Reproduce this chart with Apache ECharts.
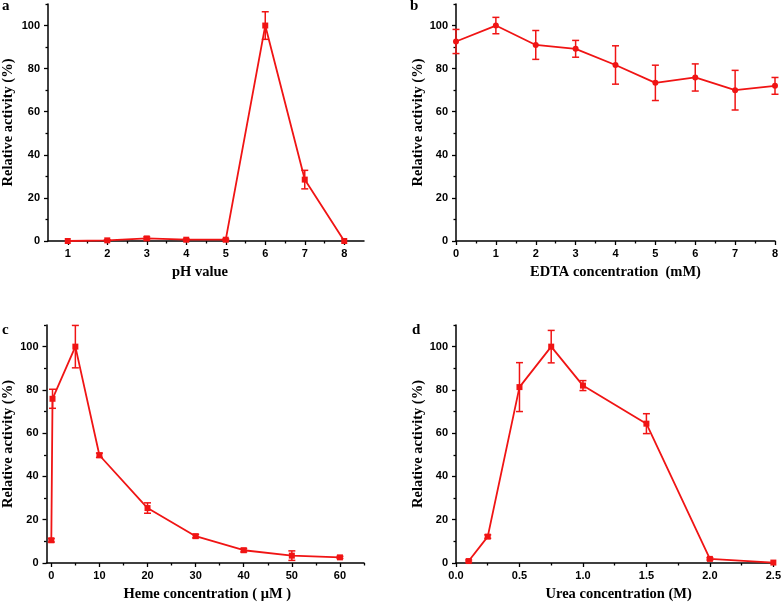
<!DOCTYPE html>
<html>
<head>
<meta charset="utf-8">
<script src="https://cdn.jsdelivr.net/npm/echarts@6/dist/echarts.min.js"></script>
<style>html,body{margin:0;padding:0;background:#fff;}#chart{width:784px;height:605px;}</style>
</head>
<body>
<div id="chart"></div>
<script>
// ---- data ----
const yTicks = [0, 20, 40, 60, 80, 100];
const yMinorTicks = [10, 30, 50, 70, 90, 110];

const phX = [1, 2, 3, 4, 5, 6, 7, 8];
const phY = [0, 0.3, 1.2, 0.6, 0.6, 100, 28.5, 0];
const phErr = [0, 0.3, 0.7, 0.3, 0.3, 6.4, 4.3, 0];
const phTicks = [1, 2, 3, 4, 5, 6, 7, 8];
const phMinor = [1.5, 2.5, 3.5, 4.5, 5.5, 6.5, 7.5];

const edtaX = [0, 1, 2, 3, 4, 5, 6, 7, 8];
const edtaY = [92.6, 100, 91, 89.2, 81.7, 73.4, 75.9, 70, 72];
const edtaErr = [5.6, 3.8, 6.7, 3.9, 8.9, 8.2, 6.3, 9.2, 3.9];
const edtaTicks = [0, 1, 2, 3, 4, 5, 6, 7, 8];
const edtaMinor = [0.5, 1.5, 2.5, 3.5, 4.5, 5.5, 6.5, 7.5];

const hemeX = [0, 0.25, 5, 10, 20, 30, 40, 50, 60];
const hemeY = [10.5, 75.9, 100, 49.8, 25.4, 12.4, 5.9, 3.4, 2.6];
const hemeErr = [0.8, 4.4, 9.8, 1, 2.4, 0.8, 0.8, 2.2, 0.5];
const hemeTicks = [0, 10, 20, 30, 40, 50, 60];
const hemeMinor = [5, 15, 25, 35, 45, 55, 65];

const ureaX = [0.1, 0.25, 0.5, 0.75, 1.0, 1.5, 2.0, 2.5];
const ureaY = [0.9, 12.2, 81.3, 100, 82, 64.4, 1.9, 0.2];
const ureaErr = [0.5, 0.8, 11.3, 7.5, 2.3, 4.6, 0.5, 0];
const ureaTicks = [0, 0.5, 1.0, 1.5, 2.0, 2.5];
const ureaMinor = [0.25, 0.75, 1.25, 1.75, 2.25];

// ---- styling ----
const RED = '#f01414';
const SANS = '"Liberation Sans", Arial, sans-serif';
const SERIF = '"Liberation Serif", "Times New Roman", serif';

const panels = [
  {letter: 'a', grid: {left: 46, top: 4, width: 318, height: 237}, xmin: 0.5, xmax: 8.5,
   x: phX, y: phY, err: phErr, ticks: phTicks, minor: phMinor, fmt: v => String(v),
   name: 'pH value', namePad: [0, 12, 0, 0], symbol: 'rect', yGap: 32, letterPos: [2, 7]},
  {letter: 'b', grid: {left: 456, top: 4, width: 319, height: 237}, xmin: 0, xmax: 8,
   x: edtaX, y: edtaY, err: edtaErr, ticks: edtaTicks, minor: edtaMinor, fmt: v => String(v),
   name: 'EDTA concentration  (mM)', namePad: [0, 0, 0, 0], symbol: 'circle', yGap: 29.5, letterPos: [410, 7]},
  {letter: 'c', grid: {left: 45, top: 325, width: 319, height: 238}, xmin: -1, xmax: 65,
   x: hemeX, y: hemeY, err: hemeErr, ticks: hemeTicks, minor: hemeMinor, fmt: v => String(v),
   name: 'Heme concentration ( \u03bcM )', namePad: [0, 0, 0, 4], symbol: 'rect', yGap: 30.5, letterPos: [2, 331]},
  {letter: 'd', grid: {left: 456, top: 325, width: 319, height: 238}, xmin: 0, xmax: 2.5,
   x: ureaX, y: ureaY, err: ureaErr, ticks: ureaTicks, minor: ureaMinor, fmt: v => v.toFixed(1),
   name: 'Urea concentration (M)', namePad: [0, 0, 0, 8], symbol: 'rect', yGap: 29.5, letterPos: [412, 331]}
];

const grids = [], xAxes = [], yAxes = [], series = [], graphics = [];
const axisLine = {show: true, onZero: false, lineStyle: {color: '#000', width: 1.5}};
const hiddenLine = {show: false, onZero: false};
const tickLine = {color: '#000', width: 1.3};
const labelStyle = {fontFamily: SANS, fontWeight: 'bold', fontSize: 11, color: '#000'};

panels.forEach((p, i) => {
  grids.push(Object.assign({containLabel: false}, p.grid));
  xAxes.push({
    type: 'value', gridIndex: i, min: p.xmin, max: p.xmax, position: 'bottom',
    axisLine: axisLine,
    axisTick: {show: true, inside: false, length: 4, customValues: p.ticks, lineStyle: tickLine},
    axisLabel: Object.assign({customValues: p.ticks, margin: 7, formatter: p.fmt}, labelStyle),
    splitLine: {show: false},
    name: p.name, nameLocation: 'middle', nameGap: 23.5,
    nameTextStyle: {fontFamily: SERIF, fontWeight: 'bold', fontSize: 14.5, color: '#000', padding: p.namePad}
  });
  xAxes.push({
    type: 'value', gridIndex: i, min: p.xmin, max: p.xmax, position: 'bottom',
    axisLine: hiddenLine,
    axisTick: {show: true, inside: false, length: 2.5, customValues: p.minor, lineStyle: tickLine},
    axisLabel: {show: false}, splitLine: {show: false}
  });
  yAxes.push({
    type: 'value', gridIndex: i, min: 0, max: 110, position: 'left',
    axisLine: axisLine,
    axisTick: {show: true, inside: false, length: 4, customValues: yTicks, lineStyle: tickLine},
    axisLabel: Object.assign({customValues: yTicks, margin: 8}, labelStyle),
    splitLine: {show: false},
    name: 'Relative activity (%)', nameLocation: 'middle', nameGap: p.yGap,
    nameTextStyle: {fontFamily: SERIF, fontWeight: 'bold', fontSize: 14.5, color: '#000'}
  });
  yAxes.push({
    type: 'value', gridIndex: i, min: 0, max: 110, position: 'left',
    axisLine: hiddenLine,
    axisTick: {show: true, inside: false, length: 2.5, customValues: yMinorTicks, lineStyle: tickLine},
    axisLabel: {show: false}, splitLine: {show: false}
  });
  series.push({
    type: 'line', xAxisIndex: 2 * i, yAxisIndex: 2 * i,
    data: p.x.map((v, k) => [v, p.y[k]]),
    symbol: p.symbol, symbolSize: 6,
    lineStyle: {color: RED, width: 1.8}, itemStyle: {color: RED},
    z: 3, animation: false, clip: false
  });
  series.push({
    type: 'custom', xAxisIndex: 2 * i, yAxisIndex: 2 * i,
    data: p.x.map((v, k) => [v, p.y[k] - p.err[k], p.y[k] + p.err[k]]).filter((d, k) => p.err[k] > 0),
    encode: {x: 0, y: [1, 2]},
    renderItem: function (params, api) {
      const x = api.value(0);
      const lo = api.coord([x, api.value(1)]);
      const hi = api.coord([x, api.value(2)]);
      const w = 3.5;
      const st = {stroke: RED, lineWidth: 1.5};
      return {type: 'group', children: [
        {type: 'line', shape: {x1: lo[0], y1: lo[1], x2: hi[0], y2: hi[1]}, style: st},
        {type: 'line', shape: {x1: lo[0] - w, y1: lo[1], x2: lo[0] + w, y2: lo[1]}, style: st},
        {type: 'line', shape: {x1: hi[0] - w, y1: hi[1], x2: hi[0] + w, y2: hi[1]}, style: st}
      ]};
    },
    z: 4, animation: false, clip: false
  });
  graphics.push({
    type: 'text', left: p.letterPos[0], top: p.letterPos[1] - 8,
    style: {text: p.letter, font: 'bold 15px ' + SERIF, fill: '#000'}
  });
});

const chart = echarts.init(document.getElementById('chart'), null, {renderer: 'canvas'});
chart.setOption({
  backgroundColor: '#fff',
  animation: false,
  grid: grids,
  xAxis: xAxes,
  yAxis: yAxes,
  series: series,
  graphic: graphics
});
</script>
</body>
</html>
